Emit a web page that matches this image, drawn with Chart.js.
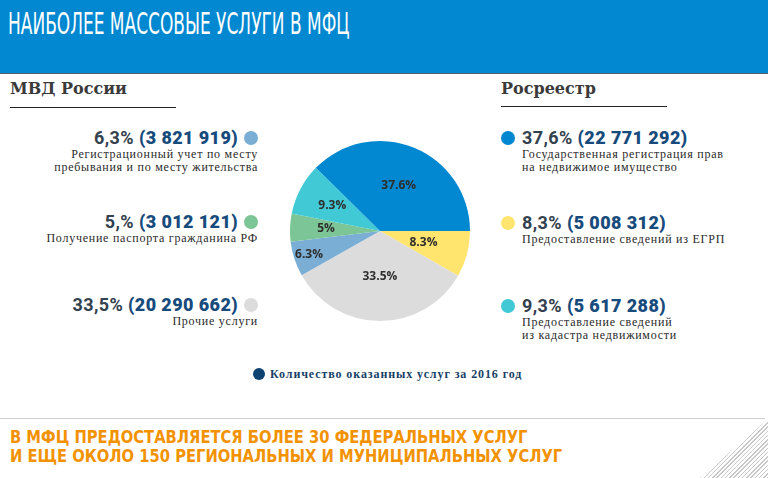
<!DOCTYPE html>
<html>
<head>
<meta charset="utf-8">
<script src="https://cdn.jsdelivr.net/npm/chart.js@4.4.1/dist/chart.umd.min.js"></script>
<style>
  html, body { margin:0; padding:0; }
  body { width:768px; height:478px; position:relative; overflow:hidden; background:#fff; font-family:'Roboto', sans-serif; }
  .header { position:absolute; left:0; top:0; width:768px; height:73px; background:#0288d1; border-bottom:1px solid #55606a; }
  .title { position:absolute; left:8px; top:6px; color:#fff; font:30px 'Liberation Sans Narrow','DejaVu Sans Condensed',sans-serif; transform-origin:left top; transform:scaleX(0.63); white-space:nowrap; }
  .group { position:absolute; font:bold 16px 'DejaVu Serif',serif; color:#3a3a3a; }
  .rule { position:absolute; height:1px; background:#222; }
  .item { position:absolute; white-space:nowrap; }
  .item .main { font:bold 18px 'Roboto',sans-serif; color:#33414e; letter-spacing:0.4px; line-height:20px; }
  .item .main b { color:#174b7c; }
  .item .sub { font:12px 'Liberation Serif',serif; color:#2a2a2a; line-height:13px; letter-spacing:0.75px; }
  .left { text-align:right; }
  .dot { position:absolute; width:14px; height:14px; border-radius:50%; }
  #chartBox { position:absolute; left:285px; top:136px; width:190px; height:190px; }
  .legend { position:absolute; left:253px; top:367px; white-space:nowrap; font:bold 12px 'Liberation Serif',serif; letter-spacing:0.9px; color:#173f66; }
  .legend i { display:inline-block; width:12px; height:12px; border-radius:50%; background:#0d4273; vertical-align:-2px; margin-right:5px; }
  .bottomRule { position:absolute; left:0; top:418px; width:765px; height:1px; background:#cfcfcf; }
  .note { position:absolute; left:10px; top:427px; color:#f39200; font:bold 18px 'Liberation Sans Narrow','DejaVu Sans Condensed',sans-serif; line-height:19px; transform-origin:left top; transform:scaleX(0.91); white-space:nowrap; }
  .hatch { position:absolute; left:700px; top:419px; width:68px; height:59px; clip-path:polygon(100% 0, 100% 100%, 0 100%); background:repeating-linear-gradient(135deg, #fff 0 2px, #c8c8c8 2px 3px); }
</style>
</head>
<body>
<div class="header"><div class="title">НАИБОЛЕЕ МАССОВЫЕ УСЛУГИ В МФЦ</div></div>

<div class="group" style="left:10px;top:79px;">МВД России</div>
<div class="rule" style="left:10px;top:107px;width:166px;"></div>
<div class="group" style="left:501px;top:79px;">Росреестр</div>
<div class="rule" style="left:501px;top:106px;width:166px;"></div>

<div id="labels"></div>

<div id="chartBox"><canvas id="pie"></canvas></div>

<div class="legend"><i></i>Количество оказанных услуг за 2016 год</div>

<div class="bottomRule"></div>
<div class="hatch"></div>
<div class="note">В МФЦ ПРЕДОСТАВЛЯЕТСЯ БОЛЕЕ 30 ФЕДЕРАЛЬНЫХ УСЛУГ<br>И ЕЩЕ ОКОЛО 150 РЕГИОНАЛЬНЫХ И МУНИЦИПАЛЬНЫХ УСЛУГ</div>

<script>
(function(){
  'use strict';

  // Data (clockwise from 3 o'clock)
  const categories = [
    'Предоставление сведений из ЕГРП',
    'Прочие услуги',
    'Регистрационный учет по месту пребывания и по месту жительства',
    'Получение паспорта гражданина РФ',
    'Предоставление сведений из кадастра недвижимости',
    'Государственная регистрация прав на недвижимое имущество'
  ];
  const counts = [5008312, 20290662, 3821919, 3012121, 5617288, 22771292];
  const sliceLabels = ['8.3%', '33.5%', '6.3%', '5%', '9.3%', '37.6%'];
  const sideLabels = ['8,3%', '33,5%', '6,3%', '5,%', '9,3%', '37,6%'];
  const countLabels = ['(5 008 312)', '(20 290 662)', '(3 821 919)', '(3 012 121)', '(5 617 288)', '(22 771 292)'];
  const subLines = [
    ['Предоставление сведений из ЕГРП'],
    ['Прочие услуги'],
    ['Регистрационный учет по месту', 'пребывания и по месту жительства'],
    ['Получение паспорта гражданина РФ'],
    ['Предоставление сведений', 'из кадастра недвижимости'],
    ['Государственная регистрация прав', 'на недвижимое имущество']
  ];
  const colors = ['#ffe46e', '#dcdcdc', '#7aaed5', '#7cc596', '#41cad6', '#0288d1'];

  // side label layout: [side, top]
  const layout = [
    ['right', 213], ['left', 295], ['left', 128], ['left', 212], ['right', 296], ['right', 128]
  ];

  const wrap = document.getElementById('labels');
  layout.forEach(function(l, i){
    const div = document.createElement('div');
    div.className = 'item' + (l[0] === 'left' ? ' left' : '');
    div.style.top = l[1] + 'px';
    if (l[0] === 'left') div.style.right = (768 - 258) + 'px';
    else div.style.left = '522px';
    div.innerHTML = '<div class="main">' + sideLabels[i] + ' <b>' + countLabels[i] + '</b>' +
      (l[0] === 'left' ? '<span style="display:inline-block;width:20px"></span>' : '') + '</div>' +
      subLines[i].map(function(s){ return '<div class="sub">' + s + '</div>'; }).join('');
    wrap.appendChild(div);

    const dot = document.createElement('div');
    dot.className = 'dot';
    dot.style.background = colors[i];
    dot.style.top = (l[1] + 3) + 'px';
    dot.style.left = (l[0] === 'left' ? 244 : 501) + 'px';
    document.body.appendChild(dot);
  });

  const radial = [0.5, 0.51, 0.83, 0.6, 0.6, 0.55];

  const sliceText = {
    id: 'sliceText',
    afterDatasetsDraw(chart){
      const ctx = chart.ctx;
      const meta = chart.getDatasetMeta(0);
      ctx.save();
      ctx.font = 'bold 12px "Open Sans", sans-serif';
      ctx.fillStyle = '#2e2e2e';
      ctx.textAlign = 'center';
      ctx.textBaseline = 'middle';
      meta.data.forEach(function(arc, i){
        const mid = (arc.startAngle + arc.endAngle) / 2;
        const r = arc.outerRadius * radial[i];
        ctx.fillText(sliceLabels[i], arc.x + Math.cos(mid) * r, arc.y + Math.sin(mid) * r);
      });
      ctx.restore();
    }
  };

  new Chart(document.getElementById('pie'), {
    type: 'pie',
    data: {
      labels: categories,
      datasets: [{
        data: counts,
        backgroundColor: colors,
        borderWidth: 0
      }]
    },
    options: {
      responsive: true,
      maintainAspectRatio: false,
      animation: false,
      rotation: 90,
      layout: { padding: 5 },
      plugins: {
        legend: { display: false },
        tooltip: { enabled: false }
      }
    },
    plugins: [sliceText]
  });
})();
</script>
</body>
</html>
